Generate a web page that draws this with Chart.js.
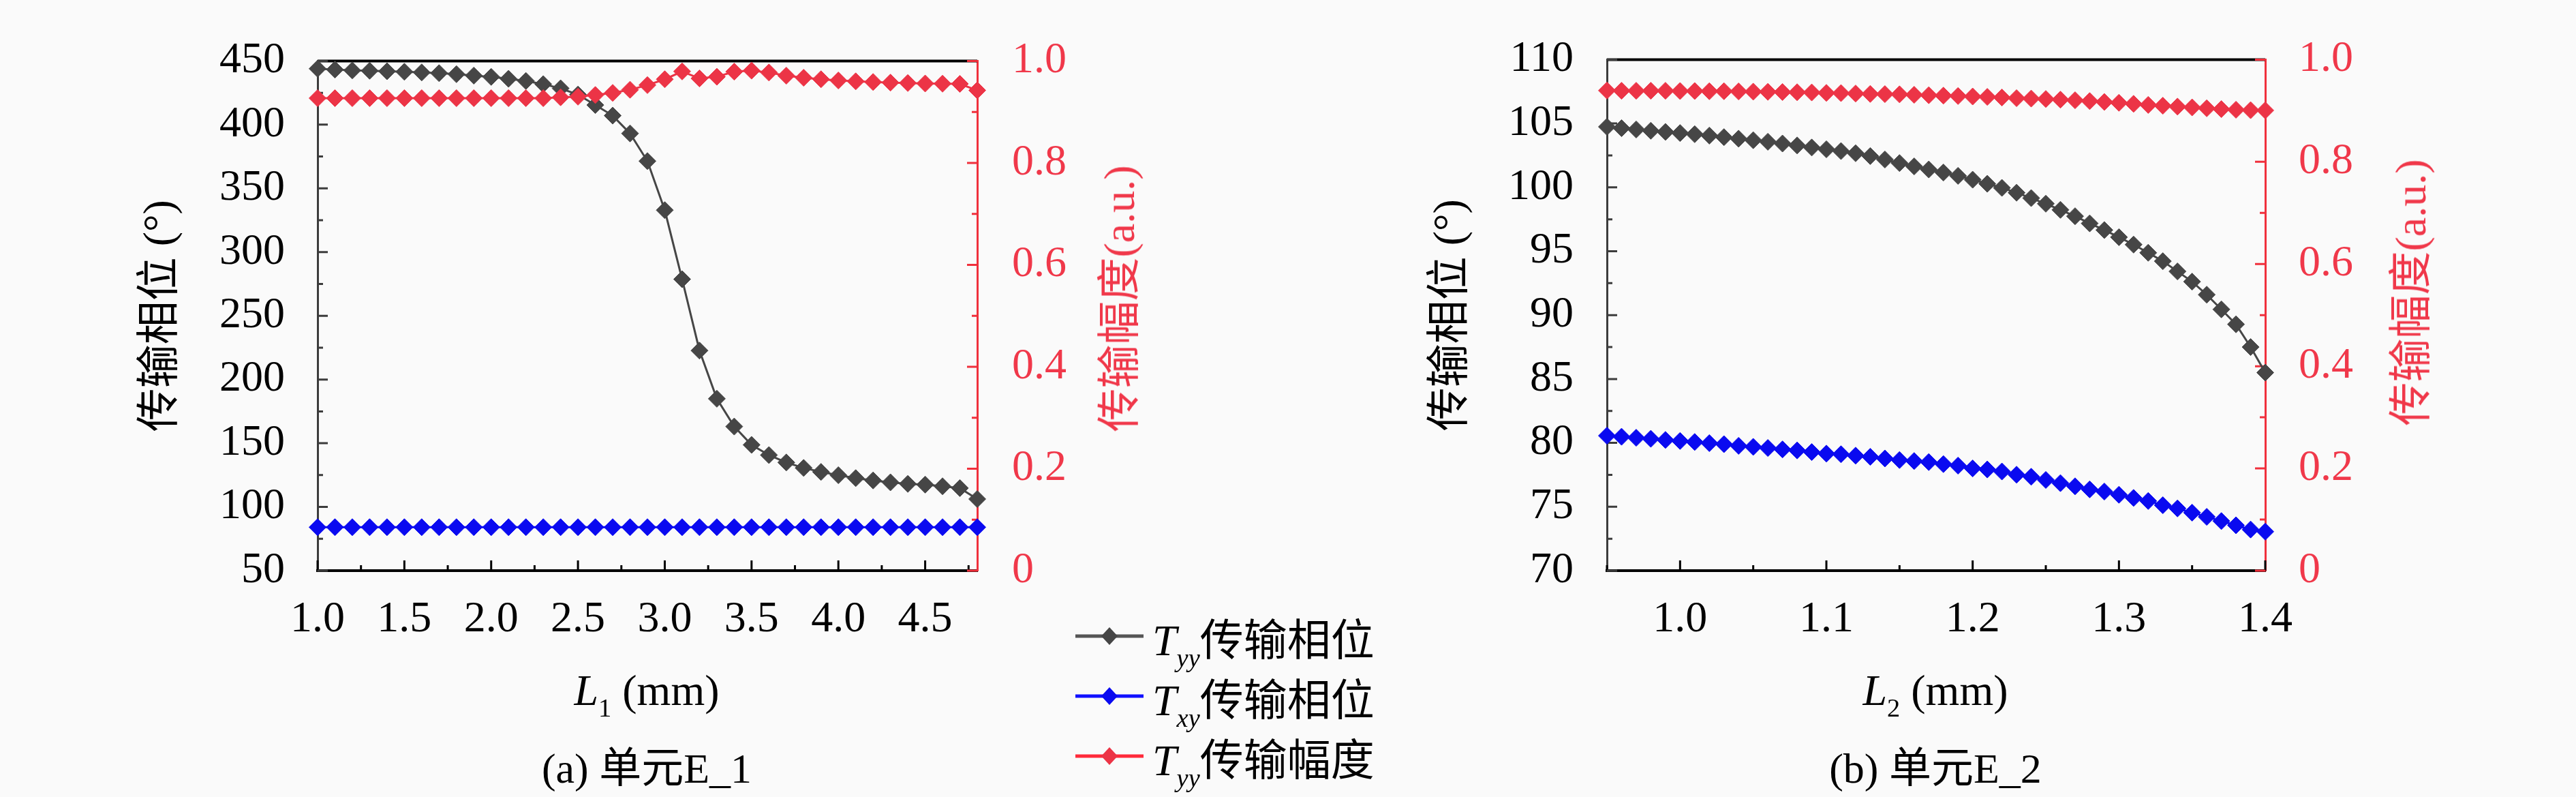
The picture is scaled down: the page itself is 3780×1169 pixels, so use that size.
<!DOCTYPE html>
<html>
<head>
<meta charset="utf-8">
<title>传输相位与传输幅度</title>
<script src="https://cdn.jsdelivr.net/npm/chart.js@4.4.0/dist/chart.umd.min.js"></script>
<style>
  html, body { margin: 0; padding: 0; background: #fafafa; }
  body {
    width: 3780px; height: 1169px; position: relative; overflow: hidden;
    font-family: 'Liberation Serif', 'Noto Sans CJK SC', serif; color: #000;
  }
  canvas { position: absolute; top: 0; }
  #chartA { left: 0; }
  #chartB { left: 1900px; }
  .txt {
    position: absolute; white-space: nowrap; font-size: 64px; line-height: 1;
    transform: translate(-50%, -50%);
  }
  .rot { transform: translate(-50%, -50%) rotate(-90deg); color: #f0384a; }
  .cap { font-size: 62px; }
  sub { font-size: 0.6em; vertical-align: -0.45em; line-height: 0; }
  #legend { position: absolute; left: 1578px; top: 889px; font-size: 64px; }
  #legend .row { height: 88px; display: flex; align-items: center; white-space: nowrap; }
  #legend svg { margin-right: 13px; }
</style>
</head>
<body>
<canvas id="chartA" width="1700" height="1169"></canvas>
<canvas id="chartB" width="1692" height="1169"></canvas>

<div class="txt rot" style="left:1643px; top:438px;">传输幅度(a.u.)</div>
<div class="txt rot" style="left:3538px; top:429px;">传输幅度(a.u.)</div>
<div class="txt" style="left:949px; top:1013px;"><i>L</i><sub>1</sub> (mm)</div>
<div class="txt" style="left:2840px; top:1013px;"><i>L</i><sub>2</sub> (mm)</div>
<div class="txt cap" style="left:949px; top:1127px;">(a) 单元E_1</div>
<div class="txt cap" style="left:2840px; top:1127px;">(b) 单元E_2</div>
<div id="legend"></div>

<script>
// ---- data ----
// (a) unit E_1, L1 in mm
const lengthA = [1.0, 1.1, 1.2, 1.3, 1.4, 1.5, 1.6, 1.7, 1.8, 1.9,
                 2.0, 2.1, 2.2, 2.3, 2.4, 2.5, 2.6, 2.7, 2.8, 2.9,
                 3.0, 3.1, 3.2, 3.3, 3.4, 3.5, 3.6, 3.7, 3.8, 3.9,
                 4.0, 4.1, 4.2, 4.3, 4.4, 4.5, 4.6, 4.7, 4.8];
const phaseYyA = [443.9, 443.2, 442.6, 442.3, 441.9, 441.5, 441.0, 440.4, 439.6, 438.5,
                  437.5, 436.0, 434.3, 431.8, 428.5, 423.6, 415.4, 407.1, 393.1, 371.4,
                  332.9, 278.7, 222.7, 184.9, 163.1, 148.7, 140.7, 134.9, 130.6, 127.5,
                  124.9, 122.6, 120.8, 119.3, 118.1, 117.5, 116.2, 114.8, 106.2];
const phaseXyA = [84.1, 84.1, 84.1, 84.1, 84.1, 84.1, 84.1, 84.1, 84.1, 84.1,
                  84.1, 84.1, 84.1, 84.1, 84.1, 84.1, 84.1, 84.1, 84.1, 84.1,
                  84.1, 84.1, 84.1, 84.1, 84.1, 84.1, 84.1, 84.1, 84.1, 84.1,
                  84.1, 84.1, 84.1, 84.1, 84.1, 84.1, 84.1, 84.1, 84.1];
const ampYyA = [0.927, 0.927, 0.927, 0.927, 0.927, 0.927, 0.927, 0.927, 0.927, 0.927,
                0.927, 0.927, 0.927, 0.927, 0.9287, 0.9299, 0.9332, 0.9373, 0.9435, 0.9526,
                0.9641, 0.9794, 0.9657, 0.9690, 0.979, 0.981, 0.9773, 0.9711, 0.9670, 0.9641,
                0.9617, 0.9600, 0.9587, 0.9575, 0.9567, 0.9558, 0.9554, 0.9550, 0.9423];

// (b) unit E_2, L2 in mm
const lengthB = [0.95, 0.96, 0.97, 0.98, 0.99, 1.00, 1.01, 1.02, 1.03, 1.04,
                 1.05, 1.06, 1.07, 1.08, 1.09, 1.10, 1.11, 1.12, 1.13, 1.14,
                 1.15, 1.16, 1.17, 1.18, 1.19, 1.20, 1.21, 1.22, 1.23, 1.24,
                 1.25, 1.26, 1.27, 1.28, 1.29, 1.30, 1.31, 1.32, 1.33, 1.34,
                 1.35, 1.36, 1.37, 1.38, 1.39, 1.40];
const phaseYyB = [104.74, 104.63, 104.53, 104.43, 104.34, 104.25, 104.16, 104.05, 103.93, 103.81,
                  103.69, 103.57, 103.43, 103.28, 103.12, 102.98, 102.84, 102.67, 102.45, 102.18,
                  101.90, 101.64, 101.40, 101.16, 100.90, 100.60, 100.28, 99.96, 99.58, 99.16,
                  98.72, 98.24, 97.74, 97.18, 96.66, 96.10, 95.52, 94.88, 94.22, 93.42,
                  92.62, 91.60, 90.45, 89.28, 87.50, 85.50];
const phaseXyB = [80.56, 80.48, 80.40, 80.32, 80.23, 80.15, 80.07, 79.98, 79.90, 79.77,
                  79.69, 79.60, 79.49, 79.41, 79.28, 79.16, 79.11, 79.00, 78.91, 78.78,
                  78.66, 78.58, 78.50, 78.34, 78.22, 78.00, 77.92, 77.76, 77.51, 77.35,
                  77.10, 76.85, 76.60, 76.36, 76.19, 75.94, 75.69, 75.45, 75.12, 74.87,
                  74.54, 74.21, 73.88, 73.55, 73.22, 73.05];
const ampYyB = [0.9394, 0.9390, 0.9390, 0.9390, 0.9390, 0.9385, 0.9385, 0.9381, 0.9381, 0.9377,
                0.9373, 0.9369, 0.9365, 0.9361, 0.9357, 0.9348, 0.9344, 0.9336, 0.9328, 0.9324,
                0.9320, 0.9311, 0.9303, 0.9295, 0.9287, 0.9278, 0.9270, 0.9258, 0.9245, 0.9237,
                0.9229, 0.9216, 0.9204, 0.9188, 0.9171, 0.9155, 0.9134, 0.9113, 0.9097, 0.9080,
                0.9064, 0.9047, 0.9031, 0.9019, 0.9010, 0.9006];

// tick labels
const xTicksA = [1.0, 1.5, 2.0, 2.5, 3.0, 3.5, 4.0, 4.5];
const yTicksA = [50, 100, 150, 200, 250, 300, 350, 400, 450];
const xTicksB = [1.0, 1.1, 1.2, 1.3, 1.4];
const yTicksB = [70, 75, 80, 85, 90, 95, 100, 105, 110];
const ampTicks = [0, 0.2, 0.4, 0.6, 0.8, 1.0];

// legend
const seriesSub = ['yy', 'xy', 'yy'];
const seriesText = ['传输相位', '传输相位', '传输幅度'];
const seriesColors = ['#464646', '#0a0af0', '#ec3446'];
const legendLine = ['#555555', '#1010ff', '#ff2a3a'];

const FONT = "'Liberation Serif', 'Noto Sans CJK SC', serif";
const RED_TEXT = '#f0384a';

// inside tick marks + top frame line
const frameTicks = {
    id: 'frameTicks',
    beforeDatasetsDraw(chart) {
        const { ctx, chartArea: a, scales } = chart;
        ctx.save();
        ctx.lineWidth = 4;
        ctx.strokeStyle = '#000';
        ctx.beginPath();
        ctx.moveTo(a.left, a.top);
        ctx.lineTo(a.right, a.top);
        ctx.stroke();

        const marks = (scale, color, draw) => {
            const vals = scale.ticks.map(t => t.value);
            const step = vals[1] - vals[0];
            ctx.strokeStyle = color;
            ctx.lineWidth = 3;
            ctx.beginPath();
            vals.forEach(v => draw(scale.getPixelForValue(v), 15));
            for (let v = vals[0] - step / 2; v <= scale.max + 1e-9; v += step) {
                if (v >= scale.min - 1e-9) draw(scale.getPixelForValue(v), 8);
            }
            ctx.stroke();
        };
        marks(scales.x, '#000', (p, len) => { ctx.moveTo(p, a.bottom); ctx.lineTo(p, a.bottom - len); });
        marks(scales.y, '#3c3c3c', (p, len) => { ctx.moveTo(a.left, p); ctx.lineTo(a.left + len, p); });
        marks(scales.y1, '#f0303c', (p, len) => { ctx.moveTo(a.right, p); ctx.lineTo(a.right - len, p); });
        ctx.restore();
    }
};

function series(xs, ys, i) {
    return {
        label: 'T' + seriesSub[i] + seriesText[i],
        data: xs.map((x, k) => ({ x: x, y: ys[k] })),
        yAxisID: i === 2 ? 'y1' : 'y',
        borderColor: seriesColors[i],
        backgroundColor: seriesColors[i],
        borderWidth: 3,
        pointStyle: 'rectRot',
        pointRadius: 12.5,
        pointBorderWidth: 1,
        tension: 0,
        clip: false,
        order: i === 2 ? 0 : i + 1
    };
}

function fixedTicks(list) {
    return scale => { scale.ticks = list.map(v => ({ value: v })); };
}

function makeChart(id, cfg) {
    const tickFont = { family: FONT, size: 64 };
    return new Chart(document.getElementById(id), {
        type: 'line',
        data: {
            datasets: [
                series(cfg.xs, cfg.phaseYy, 0),
                series(cfg.xs, cfg.phaseXy, 1),
                series(cfg.xs, cfg.amp, 2)
            ]
        },
        options: {
            responsive: false,
            devicePixelRatio: 1,
            animation: false,
            events: [],
            layout: { autoPadding: false, padding: { top: 28, left: 0, right: 16, bottom: 100 } },
            plugins: { legend: { display: false }, tooltip: { enabled: false } },
            scales: {
                x: {
                    type: 'linear',
                    min: cfg.xMin,
                    max: cfg.xMax,
                    afterBuildTicks: fixedTicks(cfg.xTicks),
                    afterFit: s => { s.height = 232; },
                    grid: { display: false, drawTicks: false },
                    border: { display: true, color: '#000', width: 4 },
                    ticks: {
                        color: '#000', font: tickFont, padding: 34,
                        maxRotation: 0, autoSkip: false,
                        callback: v => v.toFixed(1)
                    }
                },
                y: {
                    type: 'linear',
                    position: 'left',
                    min: cfg.yTicks[0],
                    max: cfg.yTicks[cfg.yTicks.length - 1],
                    afterBuildTicks: fixedTicks(cfg.yTicks),
                    afterFit: s => { s.width = cfg.leftWidth; },
                    grid: { display: false, drawTicks: false },
                    border: { display: true, color: '#3c3c3c', width: 3 },
                    ticks: { color: '#000', font: tickFont, padding: cfg.leftPad, callback: v => String(v) },
                    title: {
                        display: true,
                        text: '传输相位 (°)',
                        color: '#000',
                        font: { family: FONT, size: 64 },
                        padding: { top: cfg.titlePad, bottom: 0 }
                    }
                },
                y1: {
                    type: 'linear',
                    position: 'right',
                    min: 0,
                    max: 1,
                    afterBuildTicks: fixedTicks(ampTicks),
                    afterFit: s => { s.width = cfg.rightWidth; },
                    grid: { display: false, drawTicks: false },
                    border: { display: true, color: '#f0303c', width: 3 },
                    ticks: {
                        color: RED_TEXT, font: tickFont, padding: cfg.rightPad,
                        callback: v => (v === 0 ? '0' : v.toFixed(1))
                    }
                }
            }
        },
        plugins: [frameTicks]
    });
}

function drawAll() {
    makeChart('chartA', {
        xs: lengthA, phaseYy: phaseYyA, phaseXy: phaseXyA, amp: ampYyA,
        xMin: 1.0, xMax: 4.8, xTicks: xTicksA, yTicks: yTicksA,
        leftWidth: 466, rightWidth: 250, leftPad: 48, rightPad: 51, titlePad: 198.6
    });

    makeChart('chartB', {
        xs: lengthB, phaseYy: phaseYyB, phaseXy: phaseXyB, amp: ampYyB,
        xMin: 0.95, xMax: 1.4, xTicks: xTicksB, yTicks: yTicksB,
        leftWidth: 458, rightWidth: 252, leftPad: 49, rightPad: 49, titlePad: 191.6
    });
}

// HTML legend built from the series definitions
const legend = document.getElementById('legend');
seriesText.forEach((txt, i) => {
    const row = document.createElement('div');
    row.className = 'row';
    row.innerHTML =
        '<svg width="100" height="40" viewBox="0 0 100 40">' +
        '<line x1="0" y1="20" x2="100" y2="20" stroke="' + legendLine[i] + '" stroke-width="5"/>' +
        '<polygon points="38,20 50,7 62,20 50,33" fill="' + seriesColors[i] + '"/>' +
        '</svg>' +
        '<span><i>T</i><sub><i>' + seriesSub[i] + '</i></sub>' + txt + '</span>';
    legend.appendChild(row);
});

// make sure the serif face is ready before the canvas text is drawn
Promise.all([
    document.fonts.load('64px "Liberation Serif"'),
    document.fonts.load('64px "Noto Sans CJK SC"', '传输相位')
]).then(drawAll, drawAll);
</script>
</body>
</html>
